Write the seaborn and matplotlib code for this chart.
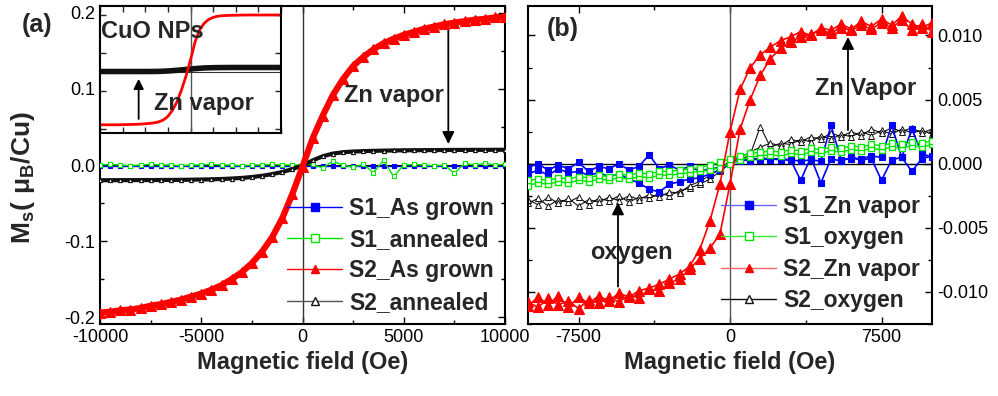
import numpy as np
import pandas as pd
import matplotlib
matplotlib.use("Agg")
import matplotlib.pyplot as plt
from matplotlib.lines import Line2D
from matplotlib.ticker import MultipleLocator, FormatStrFormatter
import seaborn as sns

sns.set_theme(style="white")
plt.rcParams['font.family'] = ['Liberation Sans', 'DejaVu Sans']
plt.rcParams['axes.unicode_minus'] = False
plt.rcParams['mathtext.fontset'] = 'custom'
plt.rcParams['mathtext.bf'] = 'Liberation Sans:bold'
plt.rcParams['mathtext.rm'] = 'Liberation Sans'

# field grid (Oe), same for every sweep
field = [-10000, -9500, -9000, -8500, -8000, -7500, -7000, -6500, -6000, -5500,
         -5000, -4500, -4000, -3500, -3000, -2500, -2000, -1500, -1000, -500,
         0, 500, 1000, 1500, 2000, 2500, 3000, 3500, 4000, 4500,
         5000, 5500, 6000, 6500, 7000, 7500, 8000, 8500, 9000, 9500, 10000]

# ---- panel (a) ----
s2_grown_a = [-0.194, -0.193, -0.191, -0.190, -0.188, -0.185, -0.183, -0.180, -0.177, -0.173,
              -0.169, -0.164, -0.158, -0.150, -0.141, -0.129, -0.114, -0.095, -0.070, -0.038,
              -0.002, 0.035, 0.065, 0.092, 0.113, 0.130, 0.142, 0.152, 0.160, 0.166,
              0.171, 0.175, 0.179, 0.182, 0.185, 0.187, 0.189, 0.191, 0.192, 0.194, 0.195]
s2_ann_a = [-0.0200, -0.0200, -0.0199, -0.0199, -0.0198, -0.0198, -0.0197, -0.0196, -0.0195, -0.0193,
            -0.0191, -0.0188, -0.0184, -0.0178, -0.0170, -0.0158, -0.0142, -0.0120, -0.0092, -0.0055,
            -0.0005, 0.0060, 0.0115, 0.0150, 0.0168, 0.0177, 0.0182, 0.0186, 0.0189, 0.0191,
            0.0193, 0.0194, 0.0195, 0.0196, 0.0197, 0.0198, 0.0198, 0.0199, 0.0199, 0.0200, 0.0200]
s1_ann_a = [0.000, 0.001, 0.000, -0.001, 0.000, 0.001, 0.000, 0.000, -0.001, 0.000,
            0.000, 0.001, 0.000, 0.000, -0.001, 0.000, 0.000, 0.001, 0.000, 0.000,
            0.000, 0.001, -0.004, 0.005, 0.000, -0.003, 0.001, -0.010, 0.006, -0.015,
            0.000, 0.001, 0.000, -0.001, 0.000, -0.011, 0.002, 0.000, 0.002, 0.000, 0.001]
s1_grown_a = [-0.001, -0.001, -0.001, -0.001, -0.001, -0.001, -0.001, -0.001, -0.001, -0.001,
              -0.001, -0.001, -0.001, -0.001, -0.001, -0.001, -0.001, -0.001, -0.001, -0.001,
              -0.001, -0.001, -0.001, -0.001, -0.001, -0.001, -0.001, -0.001, -0.001, -0.001,
              -0.001, -0.001, -0.001, -0.001, -0.001, -0.001, -0.001, -0.001, -0.001, -0.001, -0.001]

# inset (CuO NPs, arbitrary units)
inset_red = [-0.88, -0.88, -0.88, -0.88, -0.88, -0.878, -0.876, -0.874, -0.872, -0.868,
             -0.864, -0.857, -0.848, -0.83, -0.80, -0.74, -0.64, -0.50, -0.30, -0.07,
             0.20, 0.50, 0.70, 0.81, 0.875, 0.91, 0.93, 0.938, 0.942, 0.945,
             0.947, 0.948, 0.949, 0.95, 0.95, 0.95, 0.95, 0.95, 0.95, 0.95, 0.95]
inset_black = [0.008, 0.008, 0.008, 0.008, 0.008, 0.008, 0.008, 0.008, 0.008, 0.008,
               0.008, 0.008, 0.009, 0.010, 0.013, 0.017, 0.022, 0.028, 0.035, 0.042,
               0.049, 0.056, 0.062, 0.067, 0.070, 0.072, 0.073, 0.074, 0.074, 0.075,
               0.075, 0.075, 0.075, 0.075, 0.075, 0.075, 0.075, 0.075, 0.075, 0.075, 0.075]

# ---- panel (b): up sweep and down sweep, both listed from -10000 to 10000 ----
s1_zn_up = [-0.0003, 0.0000, -0.0005, -0.0001, -0.0004, 0.0001, -0.0006, -0.0002, -0.0004, 0.0000,
            -0.0005, -0.0002, 0.0007, -0.0004, -0.0001, -0.0005, -0.0002, -0.0006, -0.0004, -0.0003,
            0.0000, 0.0004, 0.0002, 0.0005, 0.0003, 0.0004, 0.0003, -0.0013, 0.0005, -0.0015,
            0.0004, 0.0002, 0.0005, 0.0003, 0.0004, -0.0013, 0.0003, 0.0005, -0.0006, 0.0004, 0.0006]
s1_zn_down = [-0.0008, -0.0005, -0.0009, -0.0004, -0.0007, -0.0006, -0.0009, -0.0007, -0.0010, -0.0008,
              -0.0012, -0.0015, -0.0020, -0.0022, -0.0016, -0.0014, -0.0012, -0.0011, -0.0008, -0.0005,
              0.0001, 0.0002, 0.0004, 0.0003, 0.0004, 0.0003, 0.0003, 0.0002, 0.0003, 0.0002,
              0.0030, 0.0003, 0.0004, 0.0004, 0.0006, 0.0005, 0.0030, 0.0005, 0.0027, 0.0008, 0.0005]
s1_ox_up = [-0.0017, -0.0015, -0.0016, -0.0014, -0.0015, -0.0013, -0.0014, -0.0012, -0.0013, -0.0011,
            -0.0012, -0.0010, -0.0011, -0.0009, -0.0009, -0.0008, -0.0007, -0.0006, -0.0005, -0.0003,
            0.0000, 0.0003, 0.0005, 0.0006, 0.0007, 0.0006, 0.0008, 0.0007, 0.0009, 0.0008,
            0.0010, 0.0009, 0.0011, 0.0010, 0.0012, 0.0011, 0.0013, 0.0012, 0.0014, 0.0013, 0.0015]
s1_ox_down = [-0.0013, -0.0012, -0.0013, -0.0011, -0.0012, -0.0010, -0.0011, -0.0009, -0.0010, -0.0008,
              -0.0009, -0.0007, -0.0008, -0.0006, -0.0006, -0.0005, -0.0004, -0.0003, -0.0001, 0.0001,
              0.0004, 0.0006, 0.0008, 0.0009, 0.0010, 0.0009, 0.0011, 0.0010, 0.0012, 0.0011,
              0.0013, 0.0012, 0.0014, 0.0013, 0.0015, 0.0014, 0.0016, 0.0015, 0.0017, 0.0016, 0.0018]
s2_zn_up = [-0.0108, -0.0112, -0.0105, -0.0110, -0.0107, -0.0113, -0.0106, -0.0109, -0.0104, -0.0108,
            -0.0102, -0.0105, -0.0098, -0.0099, -0.0093, -0.0090, -0.0082, -0.0074, -0.0066, -0.0055,
            -0.0016, 0.0027, 0.0050, 0.0069, 0.0082, 0.0090, 0.0095, 0.0099, 0.0101, 0.0104,
            0.0102, 0.0106, 0.0104, 0.0108, 0.0105, 0.0110, 0.0106, 0.0112, 0.0104, 0.0109, 0.0103]
s2_zn_down = [-0.0111, -0.0104, -0.0110, -0.0103, -0.0112, -0.0104, -0.0109, -0.0103, -0.0107, -0.0101,
              -0.0104, -0.0099, -0.0097, -0.0094, -0.0090, -0.0086, -0.0080, -0.0067, -0.0045, -0.0016,
              0.0025, 0.0058, 0.0075, 0.0085, 0.0091, 0.0096, 0.0099, 0.0103, 0.0100, 0.0106,
              0.0104, 0.0109, 0.0105, 0.0111, 0.0107, 0.0113, 0.0108, 0.0115, 0.0109, 0.0106, 0.0110]
s2_ox_up = [-0.0031, -0.0027, -0.0033, -0.0028, -0.0030, -0.0026, -0.0032, -0.0027, -0.0029, -0.0025,
            -0.0030, -0.0026, -0.0027, -0.0023, -0.0025, -0.0021, -0.0019, -0.0016, -0.0012, -0.0006,
            0.0000, 0.0003, 0.0007, 0.0029, 0.0013, 0.0016, 0.0015, 0.0019, 0.0017, 0.0022,
            0.0019, 0.0023, 0.0021, 0.0025, 0.0022, 0.0026, 0.0023, 0.0027, 0.0024, 0.0026, 0.0023]
s2_ox_down = [-0.0028, -0.0032, -0.0026, -0.0031, -0.0027, -0.0033, -0.0028, -0.0030, -0.0026, -0.0029,
              -0.0025, -0.0028, -0.0024, -0.0026, -0.0022, -0.0023, -0.0017, -0.0014, -0.0009, -0.0004,
              0.0002, 0.0005, 0.0009, 0.0013, 0.0016, 0.0014, 0.0019, 0.0017, 0.0021, 0.0019,
              0.0024, 0.0021, 0.0025, 0.0022, 0.0027, 0.0024, 0.0028, 0.0025, 0.0028, 0.0024, 0.0027]

labels_a = ['S1_As grown', 'S1_annealed', 'S2_As grown', 'S2_annealed']
labels_b = ['S1_Zn vapor', 'S1_oxygen', 'S2_Zn vapor', 'S2_oxygen']

BLUE, GREEN, RED, BLACK = '#0000ff', '#00e600', '#ff0000', '#111111'
styles = [dict(color=BLUE, marker='s', mfc=BLUE, mec=BLUE),
          dict(color=GREEN, marker='s', mfc='white', mec=GREEN),
          dict(color=RED, marker='^', mfc=RED, mec=RED),
          dict(color=BLACK, marker='^', mfc='white', mec=BLACK)]

fig = plt.figure(figsize=(9.98, 3.96), dpi=100)
axa = fig.add_axes([100 / 998, 72 / 396, 405 / 998, 318 / 396])
axb = fig.add_axes([528 / 998, 72 / 396, 404 / 998, 318 / 396])


def draw(ax, x, y, st, lw, ms, z, mew=0.8):
    sns.lineplot(x=x, y=y, ax=ax, sort=False, estimator=None, lw=lw, ms=ms,
                 mew=mew, zorder=z, legend=False, **st)
    return ax.lines[-1]


def style_axes(ax):
    for s in ax.spines.values():
        s.set_linewidth(1.5)
        s.set_color('black')
    ax.tick_params(which='both', direction='in', top=True, right=True,
                   left=True, bottom=True, labelsize=13, colors='black')
    ax.tick_params(which='major', length=5, width=1)
    ax.tick_params(which='minor', length=3, width=1)


def legend_handles(line_colors):
    hs = []
    for st, lc in zip(styles, line_colors):
        hs.append(Line2D([], [], color=lc, lw=1.0, marker=st['marker'], ms=6,
                         mfc=st['mfc'], mec=st['mec'], mew=1.0))
    return hs


leg_kw = dict(loc='upper left', frameon=False, numpoints=1,
              prop=dict(size=16.5, weight='bold'), handlelength=2.4,
              handletextpad=0.3, labelspacing=0.36, borderpad=0, borderaxespad=0)

# ---- panel (a) ----
axa.axvline(0, color='#333333', lw=1, zorder=1)
axa.axhline(0, color='black', lw=0.8, zorder=1)
draw(axa, field, s1_grown_a, styles[0], 1.0, 3, 2)
draw(axa, field, s1_ann_a, styles[1], 1.0, 3.5, 3)
draw(axa, field, s2_ann_a, styles[3], 3.0, 3, 4)
draw(axa, field, s2_grown_a, styles[2], 4.5, 6.5, 5)
axa.set_xlim(-10000, 10000)
axa.set_ylim(-0.209, 0.209)
axa.xaxis.set_major_locator(MultipleLocator(5000))
axa.xaxis.set_minor_locator(MultipleLocator(2500))
axa.yaxis.set_major_locator(MultipleLocator(0.1))
axa.yaxis.set_minor_locator(MultipleLocator(0.05))
axa.yaxis.set_major_formatter(FormatStrFormatter('%.1f'))
style_axes(axa)
axa.set_xlabel('Magnetic field (Oe)', fontsize=17, fontweight='bold', labelpad=4)

axa.annotate('', xy=(7200, 0.024), xytext=(7200, 0.184),
             arrowprops=dict(arrowstyle='-|>', color='black', lw=1.3, mutation_scale=18))
axa.text(4500, 0.092, 'Zn vapor', fontsize=17, fontweight='bold', ha='center', va='center')

lega = axa.legend(legend_handles([BLUE, GREEN, RED, '#555555']), labels_a,
                  bbox_to_anchor=(0.462, 0.40), **leg_kw)
lega.set_zorder(10)

fig.text(37 / 998, 1 - 25 / 396, '(a)', fontsize=18, fontweight='bold', ha='center', va='center')
fig.text(23 / 998, 1 - 178 / 396, r'$\mathbf{M_s(\ \mu_B/Cu)}$', fontsize=19,
         rotation=90, ha='center', va='center')

# inset
axi = fig.add_axes([100 / 998, 263 / 396, 181 / 998, 127 / 396])
axi.axvline(0, color='#555555', lw=1)
axi.axhline(0, color='#333333', lw=0.8)
sns.lineplot(x=field, y=inset_black, ax=axi, sort=False, estimator=None, color=BLACK, lw=4)
sns.lineplot(x=field, y=inset_red, ax=axi, sort=False, estimator=None, color=RED, lw=2)
axi.set_xlim(-10000, 10000)
axi.set_ylim(-1.017, 1.1)
axi.set_xticks(np.arange(-10000, 10001, 2500))
axi.set_yticks([-0.95, -0.317, 0.317, 0.95])
axi.tick_params(which='both', direction='in', top=True, right=True, left=True, bottom=True,
                labelbottom=False, labelleft=False, length=4, width=1)
for s in axi.spines.values():
    s.set_linewidth(1.5)
    s.set_color('black')
axi.set_xlabel('')
axi.set_ylabel('')
axi.text(-4170, 0.68, 'CuO NPs', fontsize=17, fontweight='bold', ha='center', va='center')
axi.annotate('', xy=(-5730, -0.067), xytext=(-5730, -0.83),
             arrowprops=dict(arrowstyle='-|>', color='black', lw=1.3, mutation_scale=15))
axi.text(1490, -0.52, 'Zn vapor', fontsize=17, fontweight='bold', ha='center', va='center')

# ---- panel (b) ----
loop_x = field + field[::-1]
axb.axvline(0, color='#555555', lw=1, zorder=1)
axb.axhline(0, color='black', lw=1, zorder=1)
draw(axb, loop_x, s2_ox_up + s2_ox_down[::-1], styles[3], 0.8, 5, 2, 0.7)
draw(axb, loop_x, s1_zn_up + s1_zn_down[::-1], styles[0], 1.2, 4.5, 3)
draw(axb, loop_x, s1_ox_up + s1_ox_down[::-1], styles[1], 1.0, 5, 4, 1.0)
draw(axb, loop_x, s2_zn_up + s2_zn_down[::-1], styles[2], 1.2, 6.5, 5)
axb.set_xlim(-10000, 10000)
axb.set_ylim(-0.0125, 0.0123)
axb.xaxis.set_major_locator(MultipleLocator(7500))
axb.xaxis.set_minor_locator(MultipleLocator(3750))
axb.yaxis.set_major_locator(MultipleLocator(0.005))
axb.yaxis.set_minor_locator(MultipleLocator(0.0025))
axb.yaxis.set_major_formatter(FormatStrFormatter('%.3f'))
style_axes(axb)
axb.tick_params(axis='y', labelleft=False, labelright=True)
axb.set_xlabel('Magnetic field (Oe)', fontsize=17, fontweight='bold', labelpad=4)

axb.annotate('', xy=(5840, 0.0101), xytext=(5840, 0.0024),
             arrowprops=dict(arrowstyle='-|>', color='black', lw=1.3, mutation_scale=18))
axb.text(6730, 0.0059, 'Zn Vapor', fontsize=17, fontweight='bold', ha='center', va='center')
axb.annotate('', xy=(-5545, -0.0028), xytext=(-5545, -0.0098),
             arrowprops=dict(arrowstyle='-|>', color='black', lw=1.3, mutation_scale=18))
axb.text(-4900, -0.0069, 'oxygen', fontsize=17, fontweight='bold', ha='center', va='center')
axb.text(-8300, 0.0105, '(b)', fontsize=18, fontweight='bold', ha='center', va='center')

legb = axb.legend(legend_handles(['#6666ff', '#33ee33', '#ff6666', BLACK]), labels_b,
                  bbox_to_anchor=(0.478, 0.405), **leg_kw)
legb.set_zorder(10)

fig.savefig('out.png', dpi=100)
